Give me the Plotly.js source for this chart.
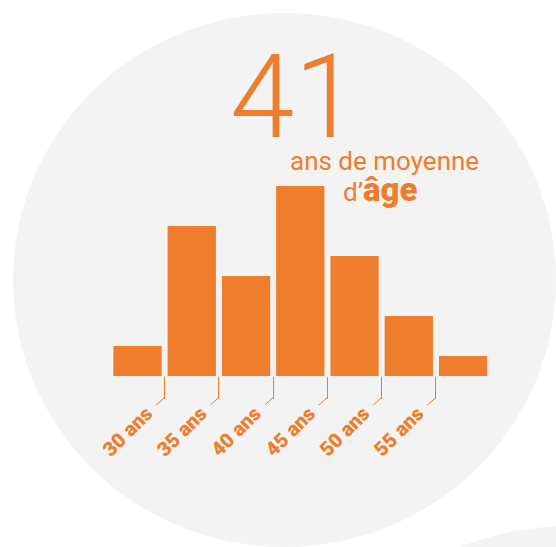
<!DOCTYPE html>
<html>
<head>
<meta charset="utf-8">
<script src="https://cdn.plot.ly/plotly-3.0.1.min.js"></script>
<style>html,body{margin:0;padding:0;background:#fff;}#chart{width:556px;height:547px;}</style>
</head>
<body>
<div id="chart"></div>
<script>
// Data
const binPositions = [0, 1, 2, 3, 4, 5, 6];
const binCounts = [3, 15, 10, 19, 12, 6, 2];
const tickPositions = [0.5, 1.5, 2.5, 3.5, 4.5, 5.5];
const tickLabels = ["30 ans", "35 ans", "40 ans", "45 ans", "50 ans", "55 ans"];
const averageAge = "41";

const W = 556, H = 547;
const ORANGE = "#EE7D2D";
const GREY = "#F3F3F3";
const fx = px => px / W;
const fy = py => 1 - py / H;

const trace = {
  type: "bar",
  x: binPositions,
  y: binCounts,
  marker: {color: ORANGE, line: {width: 0}},
  hoverinfo: "skip"
};

const shapes = [
  {type: "circle", xref: "paper", yref: "paper", layer: "below",
   x0: fx(13), x1: fx(556), y0: fy(547), y1: fy(13),
   fillcolor: GREY, line: {width: 0}},
  {type: "circle", xref: "paper", yref: "paper", layer: "below",
   x0: fx(270), x1: fx(870), y0: fy(1126), y1: fy(526),
   fillcolor: GREY, line: {width: 0}}
];

const annotations = [
  {xref: "paper", yref: "paper", x: fx(294), y: fy(97), xanchor: "center", yanchor: "middle",
   text: averageAge, showarrow: false,
   font: {family: "Roboto, sans-serif", size: 116, color: ORANGE, weight: 300}},
  {xref: "paper", yref: "paper", x: fx(384), y: fy(161), xanchor: "center", yanchor: "middle",
   text: "ans de moyenne", showarrow: false,
   font: {family: "Roboto, sans-serif", size: 26, color: ORANGE}},
  {xref: "paper", yref: "paper", x: fx(380), y: fy(189), xanchor: "center", yanchor: "middle",
   text: "d’<span style=\"font-weight:900;font-size:33px\">âge</span>", showarrow: false,
   font: {family: "Roboto, sans-serif", size: 26, color: ORANGE}}
];
// bent end of each tick: short diagonal connector below the tick mark
tickPositions.forEach(t => {
  annotations.push({
    xref: "x", yref: "paper", x: t, y: fy(397.5),
    text: " ", font: {size: 1}, borderpad: 0,
    showarrow: true, arrowhead: 0, arrowwidth: 1, arrowcolor: ORANGE,
    standoff: 0, startstandoff: 0, ax: -9, ay: 8
  });
});

const layout = {
  width: W, height: H,
  margin: {l: 0, r: 0, t: 0, b: 0},
  paper_bgcolor: "#ffffff",
  plot_bgcolor: "rgba(0,0,0,0)",
  showlegend: false,
  bargap: 0.11,
  xaxis: {
    domain: [fx(110.4), fx(490.2)],
    range: [-0.5, 6.5],
    showgrid: false, zeroline: false, showline: false,
    tickmode: "array", tickvals: tickPositions, ticktext: tickLabels,
    ticks: "outside", ticklen: 22, tickwidth: 1, tickcolor: ORANGE,
    tickangle: -45,
    ticklabelshift: -18,
    ticklabelstandoff: -5,
    tickfont: {family: "Roboto, sans-serif", size: 20, color: ORANGE, weight: 900},
    fixedrange: true
  },
  yaxis: {
    domain: [fy(376), fy(176)],
    range: [0, 20],
    visible: false,
    fixedrange: true
  },
  shapes: shapes,
  annotations: annotations
};

Plotly.newPlot("chart", [trace], layout, {displayModeBar: false, staticPlot: true});
</script>
</body>
</html>
